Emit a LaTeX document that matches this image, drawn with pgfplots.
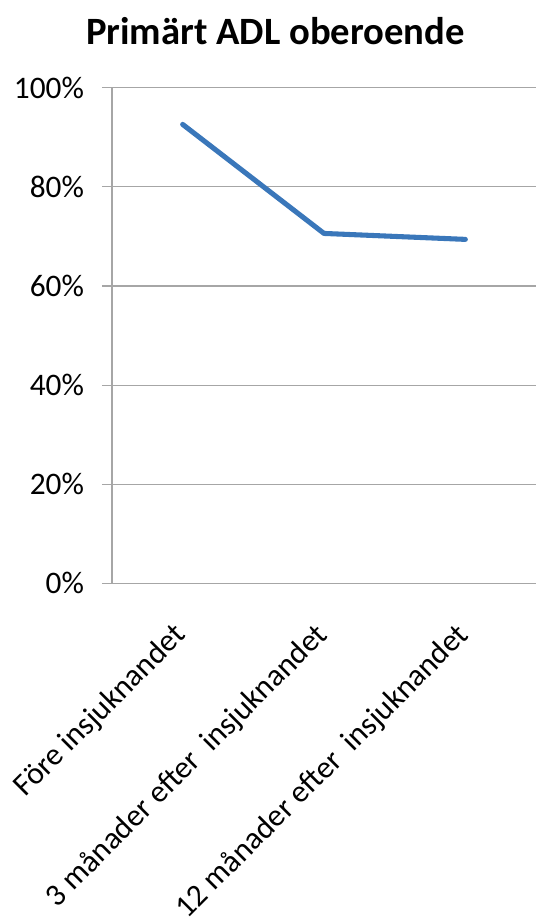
\documentclass[border=0pt]{standalone}
\usepackage{fontspec}
\setmainfont{Carlito}
\usepackage{pgfplots}
\pgfplotsset{compat=1.18}
\definecolor{lineblue}{HTML}{3A77BA}
\definecolor{gridgray}{HTML}{A6A6A6}
\begin{document}
\begin{tikzpicture}
\useasboundingbox (0,0) rectangle (402pt,690pt);
\node[anchor=base, font=\fontsize{29}{34}\selectfont\bfseries] at (206.6pt,656.25pt) {Primärt ADL oberoende};
\begin{axis}[
  at={(84pt,252.5pt)}, anchor=south west,
  width=318pt, height=371.7pt, scale only axis,
  xmin=-0.5, xmax=2.5, ymin=0, ymax=100,
  axis x line=bottom, axis y line=left,
  axis line style={-, gridgray, line width=0.8pt},
  ytick={0,20,40,60,80,100},
  yticklabels={0\%,20\%,40\%,60\%,80\%,100\%},
  ymajorgrids,
  grid style={gridgray, line width=0.8pt},
  tick align=outside,
  major tick length=7.5pt,
  tick style={gridgray, line width=0.8pt},
  xtick={0,1,2},
  xticklabels={Före insjuknandet, 3 månader efter\hspace{0.45em}insjuknandet, 12 månader efter\hspace{0.45em}insjuknandet},
  major x tick style={draw=none},
  extra x ticks={-0.5,0.5,1.5},
  extra x tick labels={},
  extra x tick style={grid=none, major x tick style={gridgray, line width=0.8pt}},
  ticklabel style={font=\fontsize{23.5}{28}\selectfont},
  yticklabel style={xshift=-10pt},
  xticklabel style={xshift=1.5pt, yshift=-25.5pt, rotate=45, anchor=east},
  /pgf/number format/assume math mode=true,
  clip=false,
]
\addplot[lineblue, line width=3.8pt, line cap=round, line join=round] coordinates {(0,92.6) (1,70.6) (2,69.4)};
\end{axis}
\end{tikzpicture}
\end{document}
